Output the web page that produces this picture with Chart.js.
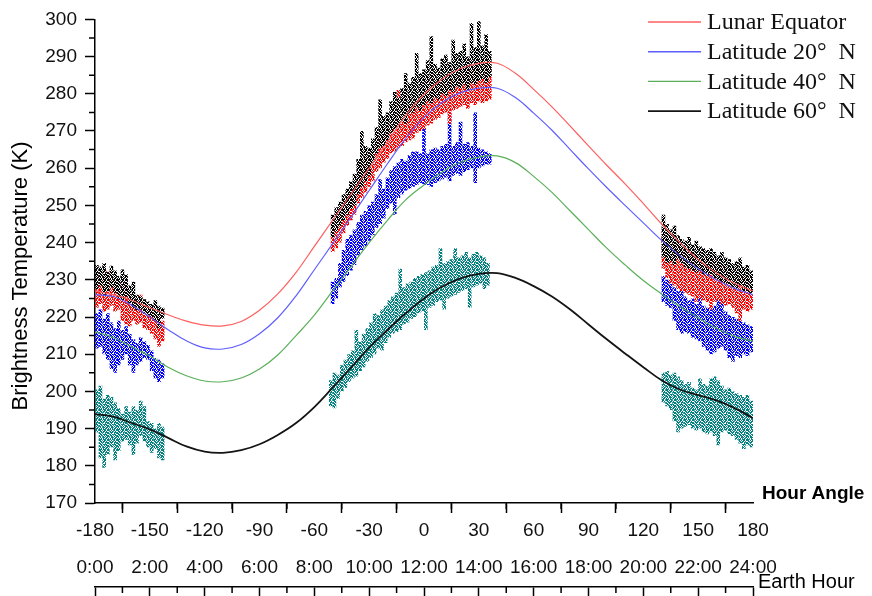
<!DOCTYPE html>
<html>
<head>
<meta charset="utf-8">
<script src="https://cdn.jsdelivr.net/npm/chart.js@4.4.0/dist/chart.umd.min.js"></script>
<style>
html,body{margin:0;padding:0;background:#fff;}
#wrap{width:872px;height:596px;}
</style>
</head>
<body>
<div id="wrap"><canvas id="c" width="872" height="596"></canvas></div>
<script>
// ---------- model curves (hour angle, degrees) ----------
const hourAngle = [-180,-170,-160,-150,-140,-130,-120,-110,-100,-90,-80,-70,-60,-50,-40,-30,-20,-10,0,10,20,30,40,50,60,70,80,90,100,110,120,130,140,150,160,170,180];
const equatorT = [227.0,226.0,224.5,222.5,220.6,218.9,217.8,217.6,218.8,221.8,226.2,232.0,239.0,246.0,253.0,260.0,267.0,274.2,279.8,284.0,286.8,288.2,288.2,285.5,281.2,276.5,271.3,266.0,260.8,255.8,250.5,245.0,240.0,235.5,231.8,229.0,227.0];
const lat20T = [226.0,225.5,223.2,220.0,216.6,213.6,211.7,211.4,212.6,215.5,219.8,225.7,232.7,239.7,246.8,254.0,261.2,268.0,273.6,277.7,280.3,281.5,281.5,279.0,274.8,270.2,265.0,259.8,254.8,250.0,245.3,240.6,236.5,233.0,230.0,227.7,226.0];
const lat40T = [216.0,214.5,212.0,209.5,206.5,204.2,202.8,202.6,203.6,206.0,209.8,215.0,220.5,227.0,233.5,240.0,246.0,251.5,255.5,259.0,261.6,263.0,263.3,261.5,257.8,253.5,248.5,243.5,238.5,234.0,229.8,226.2,222.8,219.8,217.0,214.8,213.5];
const lat60T = [193.9,193.2,191.5,189.8,187.5,185.2,183.8,183.5,184.2,185.8,188.3,191.5,195.8,201.0,206.3,211.8,216.5,221.0,225.0,228.2,230.4,231.6,231.8,230.5,228.3,225.5,222.0,218.0,214.0,210.2,206.5,203.0,200.5,199.0,197.6,195.5,192.8];
const curveLabels = ['Lunar Equator','Latitude 20°  N','Latitude 40°  N','Latitude 60°  N'];

// ---------- observations: vertical spread (low/high) at each hour angle ----------
const obsHA = [-179,-177,-175,-173,-171,-169,-167,-165,-163,-161,-159,-157,-155,-153,-151,-149,-147,-145,-143,
  -50,-48,-46,-44,-42,-40,-38,-36,-34,-32,-30,-28,-26,-24,-22,-20,-18,-16,-14,-12,-10,-8,-6,-4,-2,0,2,4,6,8,10,12,14,16,18,20,22,24,26,28,30,32,34,36,
  131,133,135,137,139,141,143,145,147,149,151,153,155,157,159,161,163,165,167,169,171,173,175,177,179];
const tealHA = [-179,-177,-175,-173,-171,-169,-167,-165,-163,-161,-159,-157,-155,-153,-151,-149,-147,-145,-143,
  -51,-49,-47,-45,-43,-41,-39,-37,-35,-33,-31,-29,-27,-25,-23,-21,-19,-17,-15,-13,-11,-9,-7,-5,-3,-1,1,3,5,7,9,11,13,15,17,19,21,23,25,27,29,31,33,35,
  131,133,135,137,139,141,143,145,147,149,151,153,155,157,159,161,163,165,167,169,171,173,175,177,179];

const blackLow = [227.5,228.5,226.0,227.0,228.0,226.5,225.0,224.5,225.5,223.5,222.5,221.8,222.0,221.0,220.5,220.0,219.0,217.0,219.5,
  241.5,243.0,244.5,246.0,247.5,249.0,250.0,253.0,255.0,256.5,258.0,261.0,264.0,265.5,266.0,267.5,269.5,270.5,271.0,272.5,272.0,274.5,275.0,276.5,275.5,277.0,278.0,277.5,279.0,278.5,280.0,279.5,281.0,280.5,282.0,281.5,282.5,281.0,283.0,282.5,283.5,284.0,283.0,284.5,
  236.0,234.5,235.0,234.0,235.5,234.5,233.5,233.0,232.5,232.0,232.5,231.5,231.0,231.5,230.5,230.0,229.5,229.0,228.5,228.0,227.5,228.5,227.0,226.5,226.0];
const blackHigh = [234.0,233.5,234.5,232.0,233.8,232.5,231.0,232.8,231.5,228.5,229.5,226.0,225.5,224.8,224.2,223.5,224.5,223.0,222.5,
  247.5,249.5,251.0,253.0,254.5,256.5,258.5,262.5,270.0,266.0,265.5,268.0,271.0,278.5,274.0,275.0,278.0,280.5,279.0,281.5,285.5,283.0,284.5,291.0,285.5,286.5,289.0,295.5,288.0,287.0,289.5,290.5,288.5,294.5,291.0,291.5,293.5,290.0,299.0,292.5,299.5,293.0,296.0,291.5,
  247.5,245.0,243.5,244.5,242.0,241.0,240.5,241.5,239.5,240.5,239.0,238.5,238.0,238.5,237.5,236.5,237.5,236.0,235.5,234.5,235.0,236.0,233.5,234.0,232.5];

const redLow = [222.5,223.5,221.5,222.0,223.0,221.5,222.0,219.0,218.0,217.5,219.0,218.0,218.5,217.0,216.5,215.5,214.0,212.0,213.5,
  237.5,238.5,240.0,242.5,244.5,246.0,247.5,250.5,252.0,253.5,255.0,256.5,259.0,260.0,261.5,262.5,264.0,264.5,265.5,266.0,267.0,267.5,268.0,269.5,270.0,270.5,271.5,272.0,273.0,273.5,274.5,275.0,272.0,275.5,276.0,276.5,277.0,276.0,277.5,277.0,278.0,277.5,278.0,278.5,
  233.0,230.5,229.0,228.5,227.5,227.0,226.5,226.0,225.5,224.0,225.0,224.5,224.0,222.0,224.0,224.5,223.5,223.0,223.5,222.5,221.0,219.0,222.0,221.5,222.0];
const redHigh = [232.0,230.5,231.5,232.3,231.0,230.0,229.5,228.0,229.5,226.5,225.5,224.5,226.0,223.5,222.5,222.0,221.0,220.5,219.0,
  244.0,246.5,247.5,249.5,252.5,254.0,255.5,258.0,261.5,262.0,263.5,264.0,267.0,268.5,269.5,270.5,271.5,273.0,281.0,275.0,276.0,276.5,277.0,278.0,278.5,280.0,285.0,281.0,282.0,281.5,283.0,283.5,284.0,285.0,285.5,286.0,286.5,287.0,289.5,287.5,288.0,287.0,288.5,287.5,
  243.0,241.0,239.5,240.0,239.0,238.5,238.0,237.5,237.0,236.5,236.0,235.5,236.0,235.5,235.0,234.5,234.0,233.0,233.5,232.5,232.0,231.5,231.0,230.5,230.0];

const blueLow = [211.5,212.0,210.0,208.5,206.0,205.0,207.0,208.5,210.0,207.0,205.0,207.0,208.0,209.0,208.5,205.5,203.5,202.5,203.5,
  223.5,225.0,228.0,229.5,231.0,232.5,234.0,236.5,238.0,239.0,240.5,242.0,244.0,245.0,246.5,249.0,250.5,247.5,252.0,253.0,254.0,254.5,255.0,255.5,256.0,255.5,255.5,255.0,256.0,256.5,257.0,257.5,256.5,258.0,258.5,258.0,259.0,259.5,260.0,256.0,260.0,260.5,261.0,261.0,
  224.0,223.0,222.5,219.0,216.5,215.5,216.0,215.5,214.5,214.0,213.5,212.0,211.0,210.0,210.5,211.5,212.0,211.0,209.0,208.0,209.5,209.0,210.0,209.5,210.5];
const blueHigh = [221.0,222.0,219.5,221.0,218.5,217.0,219.0,216.5,217.5,215.5,214.0,213.0,214.5,213.5,212.5,211.0,209.0,208.5,207.5,
  229.5,230.5,234.5,238.0,241.0,242.0,243.5,245.5,247.5,248.5,250.0,251.0,253.0,257.0,254.5,257.5,259.5,260.5,261.5,262.5,262.0,263.5,264.5,264.5,264.0,271.0,264.0,265.0,265.5,265.0,266.0,266.5,275.0,266.0,267.0,272.5,266.5,267.0,266.0,275.0,265.5,265.0,264.5,264.0,
  231.0,230.0,229.0,228.0,227.0,228.5,225.5,224.5,225.0,223.5,226.0,223.0,222.5,222.0,223.0,225.0,224.0,221.5,220.5,220.0,219.5,219.0,218.5,218.0,217.5];

const tealLow = [189.0,182.0,179.5,183.0,185.0,181.5,184.0,186.5,187.0,185.5,183.0,186.0,188.0,186.5,185.0,183.5,184.5,182.0,181.5,
  196.0,195.5,198.0,200.0,201.0,202.5,203.5,204.0,205.5,206.5,208.0,209.0,210.0,211.5,211.0,213.0,214.5,215.5,216.0,216.5,218.0,218.5,219.5,220.0,221.0,221.5,216.5,222.5,223.0,224.0,224.5,222.0,225.0,225.5,226.0,226.5,227.0,227.5,222.5,228.0,228.5,229.0,227.5,228.5,
  197.0,196.0,195.0,192.0,189.0,190.0,190.5,191.0,190.0,189.5,190.0,189.0,188.5,189.0,188.0,185.5,189.0,189.5,188.5,188.0,187.0,186.0,184.5,185.5,185.0];
const tealHigh = [200.5,201.5,198.0,199.0,198.5,197.0,195.5,194.0,196.0,194.5,196.0,195.0,197.5,196.0,192.0,191.5,190.0,191.5,190.5,
  203.0,205.0,204.5,207.0,208.5,210.0,211.0,216.5,213.5,215.5,217.0,218.5,221.0,220.5,222.0,223.0,224.5,225.5,226.5,233.0,228.0,229.0,229.5,230.5,231.0,231.5,232.0,232.5,233.5,234.0,238.5,234.5,235.0,235.5,238.5,236.0,236.5,237.5,236.0,237.0,237.5,236.5,236.0,234.5,
  205.0,205.5,204.5,205.0,204.0,203.0,202.0,202.5,201.0,200.5,203.5,202.0,201.5,203.5,204.0,203.0,201.5,200.5,201.0,200.0,199.5,199.0,198.5,199.0,197.5];

// ---------- axis tick labels ----------
const earthHourLabels = ['0:00','2:00','4:00','6:00','8:00','10:00','12:00','14:00','16:00','18:00','20:00','22:00','24:00'];

// ---------- styling ----------
const curveColors = ['rgb(255,95,95)','rgb(95,95,255)','rgb(90,175,90)','#141414'];
const curveWidths = [1.2, 1.2, 1.2, 1.8];
const obsColors = { black: '#000000', red: '#ff0000', blue: '#0000ff', teal: '#008080' };

Chart.defaults.font.family = "'Liberation Sans', Arial, Helvetica, sans-serif";
Chart.defaults.color = '#000';

// speckled fill so the observation clouds look like dense dots
const speckleMask = [
  '110101101',
  '011011010',
  '101110111',
  '110100101',
  '011011110',
  '101101011',
  '110110101',
  '010111011',
  '101010110',
  '111011101'
];
function speckle(color) {
  const c = document.createElement('canvas');
  c.width = speckleMask[0].length; c.height = speckleMask.length;
  const g = c.getContext('2d');
  g.fillStyle = color;
  speckleMask.forEach((row, r) => row.split('').forEach((b, k) => { if (b === '1') g.fillRect(k, r, 1, 1); }));
  return g.createPattern(c, 'repeat');
}

function curve(i, vals) {
  return {
    type: 'line', label: curveLabels[i], xAxisID: 'x', yAxisID: 'y',
    data: hourAngle.map((h, k) => ({ x: h, y: vals[k] })),
    borderColor: curveColors[i], borderWidth: curveWidths[i],
    pointRadius: 0, tension: 0.4, fill: false
  };
}
function obs(label, ha, lo, hi, color) {
  return {
    type: 'bar', label, xAxisID: 'x', yAxisID: 'y', stack: 'obs',
    data: ha.map((h, k) => ({ x: h, y: [lo[k], hi[k]] })),
    backgroundColor: speckle(color), borderWidth: 0, inflateAmount: 0,
    barThickness: 3.6, maxBarThickness: 3.6
  };
}

const extras = {
  id: 'extras',
  afterDraw(chart) {
    const ctx = chart.ctx;
    const { x, y, x2 } = chart.scales;
    const mids = s => s.ticks.slice(1).map((t, i) => (t.value + s.ticks[i].value) / 2);
    ctx.save();
    // minor ticks
    ctx.strokeStyle = '#000';
    ctx.lineWidth = 1.5;
    ctx.beginPath();
    mids(x).forEach(v => { const p = x.getPixelForValue(v); ctx.moveTo(p, x.top); ctx.lineTo(p, x.top + 6); });
    mids(x2).forEach(v => { const p = x2.getPixelForValue(v); ctx.moveTo(p, x2.top); ctx.lineTo(p, x2.top + 6); });
    mids(y).forEach(v => { const p = y.getPixelForValue(v); ctx.moveTo(y.right, p); ctx.lineTo(y.right - 6, p); });
    ctx.stroke();

    // legend (curves only)
    ctx.font = "24px 'Liberation Serif', 'Times New Roman', serif";
    ctx.textBaseline = 'middle';
    ctx.textAlign = 'left';
    for (let i = 0; i < 4; i++) {
      const ds = chart.data.datasets[i];
      const ry = 22 + i * 29.7;
      ctx.strokeStyle = ds.borderColor;
      ctx.lineWidth = Math.max(1.4, ds.borderWidth);
      ctx.beginPath(); ctx.moveTo(648, ry); ctx.lineTo(701, ry); ctx.stroke();
      ctx.fillStyle = '#111';
      ctx.fillText(ds.label, 707, ry + 1);
    }

    // axis titles
    ctx.fillStyle = '#000';
    ctx.font = "bold 19px 'Liberation Sans', Arial, sans-serif";
    ctx.fillText('Hour Angle', x.right + 9, x.top - 9);
    ctx.font = "20px 'Liberation Sans', Arial, sans-serif";
    ctx.fillText('Earth Hour', x2.right + 5, x2.top - 5);
    ctx.save();
    ctx.translate(21, 276);
    ctx.rotate(-Math.PI / 2);
    ctx.textAlign = 'center';
    ctx.font = "22px 'Liberation Sans', Arial, sans-serif";
    ctx.fillText('Brightness Temperature (K)', 0, 0);
    ctx.restore();
    ctx.restore();
  }
};

const axisGrid = { drawOnChartArea: false, drawTicks: true, tickLength: 10, tickColor: '#000', tickWidth: 1.5 };
const axisBorder = { display: true, color: '#000', width: 1.5 };

new Chart(document.getElementById('c'), {
  type: 'line',
  data: {
    datasets: [
      curve(0, equatorT), curve(1, lat20T), curve(2, lat40T), curve(3, lat60T),
      obs('obs black', obsHA, blackLow, blackHigh, obsColors.black),
      obs('obs red', obsHA, redLow, redHigh, obsColors.red),
      obs('obs blue', obsHA, blueLow, blueHigh, obsColors.blue),
      obs('obs teal', tealHA, tealLow, tealHigh, obsColors.teal)
    ]
  },
  options: {
    responsive: false, animation: false, devicePixelRatio: 1, events: [],
    layout: { padding: { top: 17, right: 119, left: 0, bottom: 0 } },
    plugins: { legend: { display: false }, tooltip: { enabled: false } },
    scales: {
      x: {
        type: 'linear', position: 'bottom', min: -180, max: 180, offset: false, weight: 0,
        ticks: { stepSize: 30, autoSkip: false, maxRotation: 0, padding: 6, font: { size: 19 }, color: '#111' },
        grid: axisGrid, border: axisBorder,
        afterFit: s => { s.height = 84; }
      },
      y: {
        type: 'linear', position: 'left', min: 170, max: 300, stacked: false,
        ticks: { stepSize: 10, autoSkip: false, padding: 8, font: { size: 19 }, color: '#111' },
        grid: axisGrid, border: axisBorder,
        afterFit: s => { s.width = 95; }
      },
      x2: {
        type: 'linear', position: 'bottom', min: 0, max: 24, offset: false, weight: 1,
        ticks: { stepSize: 2, autoSkip: false, maxRotation: 0, mirror: true, padding: 8, font: { size: 19 }, color: '#111',
                 callback: (v, i) => earthHourLabels[i] },
        grid: axisGrid, border: axisBorder,
        afterFit: s => { s.height = 9; }
      }
    }
  },
  plugins: [extras]
});
</script>
</body>
</html>
